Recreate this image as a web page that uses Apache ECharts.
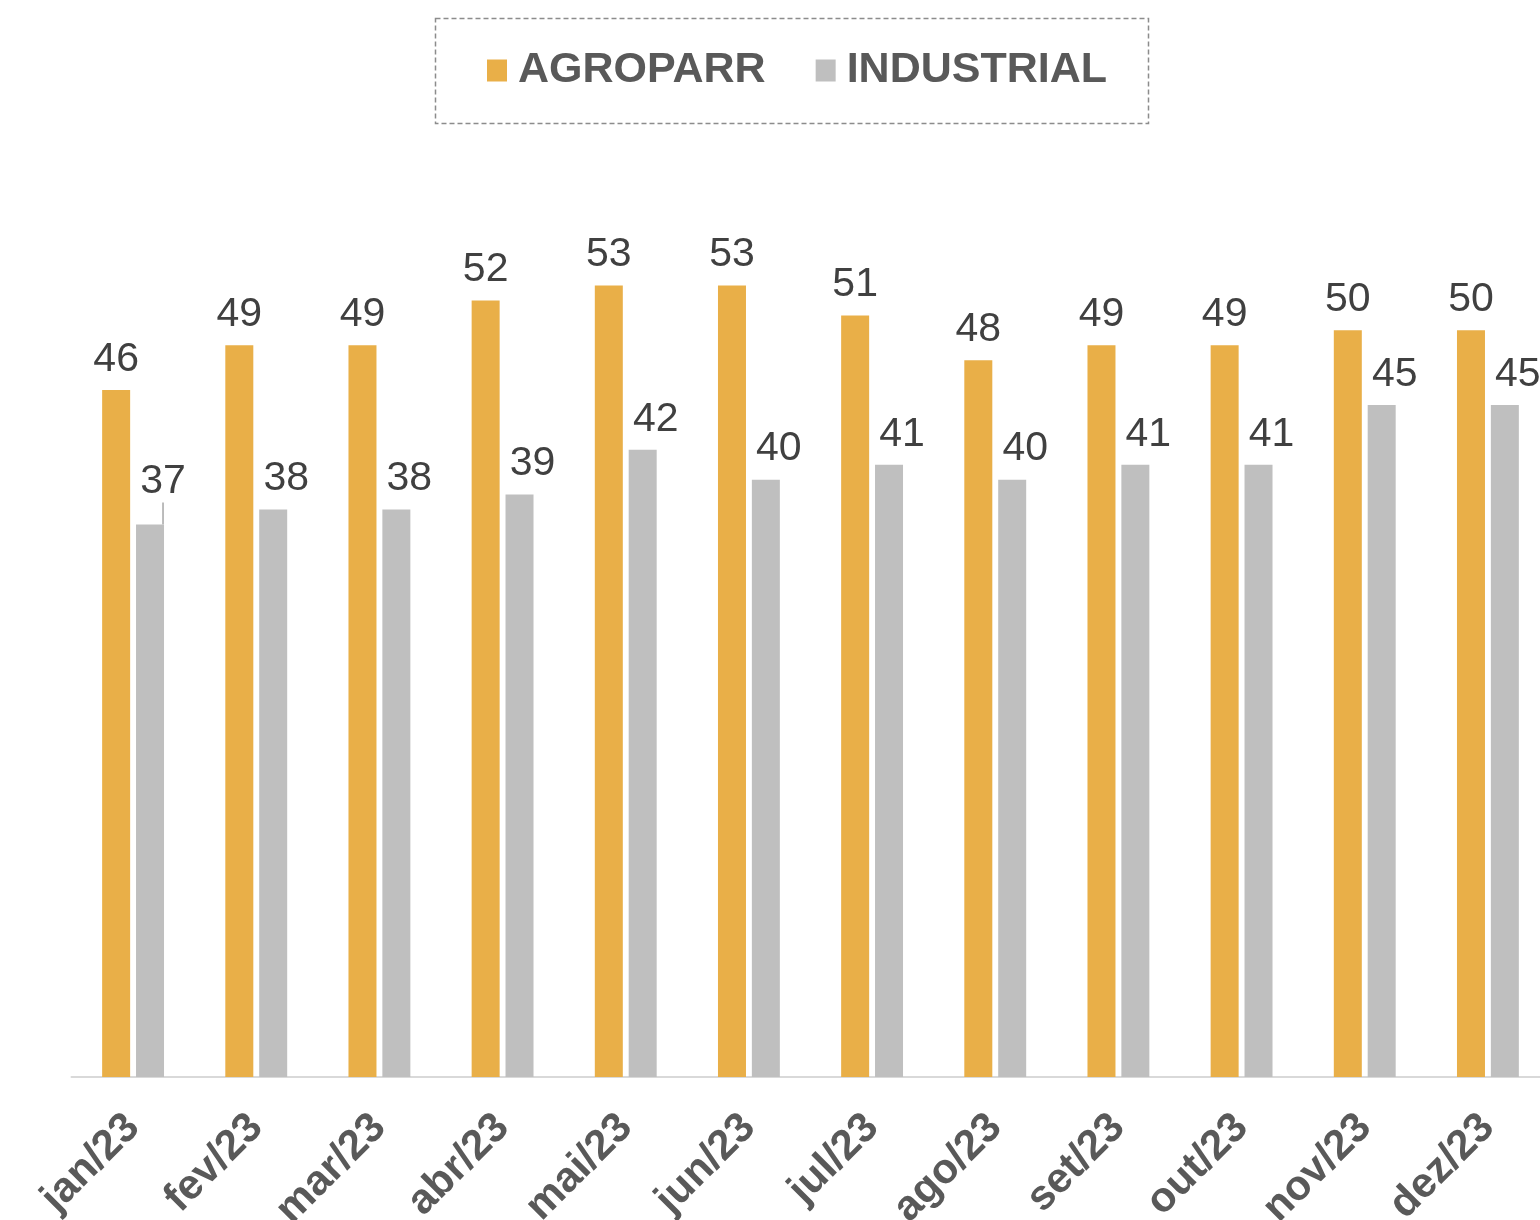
<!DOCTYPE html>
<html>
<head>
<meta charset="utf-8">
<script src="https://cdn.jsdelivr.net/npm/echarts@6/dist/echarts.min.js"></script>
<style>
  html, body { margin: 0; padding: 0; background: #fff; }
  #main { width: 1540px; height: 1220px; }
</style>
</head>
<body>
<div id="main"></div>
<script>
var months = ['jan/23', 'fev/23', 'mar/23', 'abr/23', 'mai/23', 'jun/23', 'jul/23', 'ago/23', 'set/23', 'out/23', 'nov/23', 'dez/23'];
var agroparr = [46, 49, 49, 52, 53, 53, 51, 48, 49, 49, 50, 50];
var industrial = [37, 38, 38, 39, 42, 40, 41, 40, 41, 41, 45, 45];

var chart = echarts.init(document.getElementById('main'));

var fonte = 'Liberation Sans, Arial, sans-serif';

// so o primeiro rotulo cinza tem linha guia
var industrialData = industrial.map(function (v, i) {
  if (i === 0) return { value: v, labelLine: { show: true } };
  return v;
});

var option = {
  animation: false,
  color: ['#E9AF48', '#BFBFBF'],
  legend: {
    top: 44,
    left: 482,
    itemWidth: 20,
    itemHeight: 22,
    itemGap: 50,
    icon: 'rect',
    textStyle: {
      fontFamily: fonte,
      fontSize: 43,
      fontWeight: 'bold',
      color: '#595959',
      padding: [0, 0, 0, 6]
    },
    data: ['AGROPARR', 'INDUSTRIAL']
  },
  // caixa tracejada da legenda
  graphic: [{
    type: 'rect',
    left: 433,
    top: 16,
    shape: { width: 713, height: 105 },
    style: { fill: 'none', stroke: '#8c8c8c', lineWidth: 1.5, lineDash: [5, 3] },
    silent: true
  }],
  grid: {
    left: 71.5,
    width: 1478,
    top: 181,
    bottom: 143,
    containLabel: false,
    outerBoundsMode: 'none'
  },
  xAxis: {
    type: 'category',
    data: months,
    axisLine: { lineStyle: { color: '#D9D9D9', width: 2 } },
    axisTick: { show: false },
    axisLabel: {
      rotate: 45,
      margin: 44,
      interval: 0,
      fontFamily: fonte,
      fontSize: 42,
      fontWeight: 'bold',
      color: '#595959'
    }
  },
  yAxis: {
    type: 'value',
    min: 0,
    max: 60,
    show: false,
    splitLine: { show: false }
  },
  labelLayout: function (params) {
    if (params.seriesIndex === 1) {
      if (params.dataIndex === 0) return { dx: 13, dy: -12 };
      return { dx: 13 };
    }
    return {};
  },
  series: [
    {
      name: 'AGROPARR',
      type: 'bar',
      data: agroparr,
      barWidth: 28,
      barGap: '21%',
      label: {
        show: true,
        position: 'top',
        distance: 10,
        fontFamily: fonte,
        fontSize: 41,
        color: '#404040'
      }
    },
    {
      name: 'INDUSTRIAL',
      type: 'bar',
      data: industrialData,
      barWidth: 28,
      label: {
        show: true,
        position: 'top',
        distance: 10,
        fontFamily: fonte,
        fontSize: 41,
        color: '#404040'
      },
      labelLine: {
        show: false,
        lineStyle: { color: '#A6A6A6', width: 1.5 }
      }
    }
  ]
};

chart.setOption(option);
</script>
</body>
</html>
